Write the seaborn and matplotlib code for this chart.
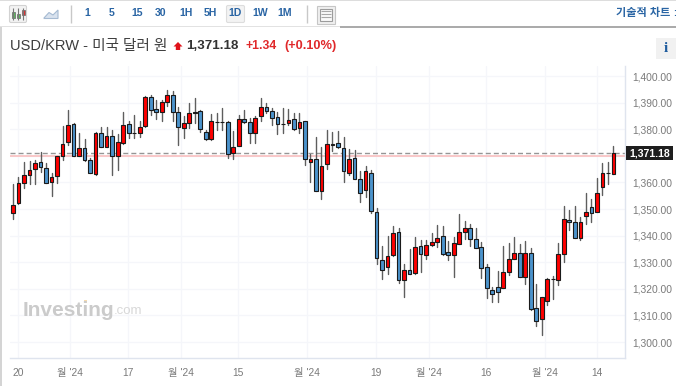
import pandas as pd
import seaborn as sns
import matplotlib.pyplot as plt
from matplotlib.patches import Rectangle, FancyBboxPatch, Polygon

opens = [1348.4, 1352.2, 1359.9, 1362.8, 1365.2, 1367.5, 1365.5, 1360.2, 1362.5, 1370.1,
         1375.1, 1381.9, 1370.1, 1372.9, 1368.5, 1363.1, 1378.7, 1373.5, 1377.4, 1369.9,
         1374.8, 1382.0, 1378.5, 1378.4, 1381.1, 1392.0, 1387.6, 1386.4, 1390.4, 1392.9,
         1386.4, 1380.4, 1382.2, 1386.0, 1386.8, 1379.1, 1376.4, 1382.6, 1382.6, 1382.6,
         1371.1, 1373.8, 1384.0, 1382.6, 1378.4, 1384.8, 1388.5, 1387.0, 1384.6, 1382.0,
         1382.2, 1384.0, 1380.4, 1383.0, 1367.5, 1368.7, 1356.6, 1366.9, 1373.9, 1374.8,
         1372.9, 1363.5, 1369.1, 1361.2, 1357.0, 1363.5, 1349.0, 1330.9, 1328.2, 1332.9,
         1341.4, 1323.5, 1327.2, 1326.0, 1336.1, 1332.9, 1336.5, 1337.5, 1339.7, 1333.9,
         1332.9, 1337.0, 1341.4, 1343.0, 1338.6, 1335.6, 1328.1, 1319.4, 1320.6, 1320.5,
         1326.5, 1331.4, 1333.4, 1324.6, 1333.4, 1312.7, 1308.6, 1315.3, 1323.6, 1323.5,
         1333.1, 1346.0, 1345.1, 1339.0, 1347.2, 1350.7, 1348.8, 1358.2, 1363.7, 1363.1]
closes = [1351.6, 1359.9, 1362.9, 1364.6, 1367.2, 1365.8, 1359.9, 1362.2, 1369.9, 1374.4,
          1381.7, 1370.1, 1372.9, 1368.5, 1363.5, 1378.7, 1373.5, 1377.4, 1369.9, 1375.1,
          1381.7, 1378.5, 1378.5, 1380.8, 1392.0, 1387.1, 1386.4, 1390.1, 1392.9, 1386.4,
          1380.8, 1382.2, 1386.0, 1386.6, 1380.0, 1376.4, 1383.0, 1382.6, 1382.6, 1370.8,
          1373.5, 1384.0, 1382.6, 1378.4, 1384.4, 1388.5, 1387.0, 1384.4, 1382.0, 1382.0,
          1383.6, 1380.2, 1382.6, 1368.7, 1368.7, 1356.6, 1366.2, 1374.4, 1374.5, 1373.5,
          1364.2, 1368.7, 1361.2, 1356.0, 1364.2, 1349.1, 1331.6, 1327.2, 1332.5, 1341.0,
          1323.4, 1327.2, 1325.6, 1335.7, 1333.2, 1336.5, 1337.5, 1339.1, 1333.1, 1332.9,
          1337.2, 1341.2, 1343.0, 1338.6, 1335.2, 1327.7, 1320.2, 1318.1, 1318.7, 1326.5,
          1331.4, 1333.4, 1324.6, 1333.4, 1312.5, 1308.0, 1317.0, 1323.6, 1323.6, 1333.1,
          1346.3, 1345.1, 1339.0, 1345.3, 1349.0, 1348.5, 1356.0, 1363.5, 1363.7, 1371.18]
highs = [1359.4, 1362.0, 1367.6, 1367.9, 1368.5, 1371.5, 1367.2, 1363.5, 1370.0, 1381.2,
         1387.1, 1382.2, 1378.5, 1376.2, 1369.1, 1379.1, 1381.0, 1380.8, 1379.7, 1378.1,
         1386.6, 1382.9, 1385.4, 1382.9, 1392.6, 1392.9, 1391.0, 1391.0, 1394.8, 1394.4,
         1388.2, 1384.8, 1390.0, 1391.6, 1387.2, 1379.7, 1385.8, 1386.0, 1387.9, 1383.2,
         1379.5, 1385.4, 1387.2, 1384.1, 1384.8, 1391.6, 1390.0, 1387.9, 1386.6, 1388.1,
         1387.6, 1386.0, 1386.0, 1383.2, 1370.6, 1377.2, 1373.5, 1379.8, 1379.1, 1379.5,
         1377.0, 1372.5, 1372.2, 1364.4, 1366.0, 1364.7, 1350.4, 1336.0, 1340.0, 1343.5,
         1342.9, 1329.4, 1335.0, 1339.5, 1338.2, 1338.2, 1341.0, 1344.1, 1343.5, 1337.9,
         1339.5, 1348.1, 1345.5, 1344.4, 1343.0, 1337.6, 1329.4, 1320.6, 1326.7, 1336.1,
         1337.1, 1339.4, 1336.9, 1338.1, 1335.2, 1322.0, 1317.0, 1324.1, 1324.7, 1337.2,
         1351.0, 1349.7, 1351.2, 1347.0, 1356.0, 1353.7, 1361.6, 1367.3, 1367.7, 1373.7]
lows = [1346.4, 1352.0, 1357.9, 1359.5, 1359.5, 1364.1, 1359.8, 1354.8, 1359.8, 1368.5,
        1374.1, 1370.0, 1370.0, 1368.1, 1363.5, 1362.9, 1373.2, 1373.5, 1362.9, 1364.8,
        1374.5, 1376.6, 1376.6, 1376.9, 1381.0, 1385.4, 1383.9, 1383.2, 1388.8, 1382.9,
        1374.0, 1376.6, 1380.4, 1382.2, 1379.1, 1376.0, 1376.0, 1379.7, 1379.7, 1369.0,
        1368.8, 1373.8, 1382.2, 1375.0, 1375.0, 1382.9, 1386.0, 1381.6, 1378.2, 1378.5,
        1381.6, 1379.7, 1378.5, 1366.4, 1360.1, 1356.6, 1353.9, 1365.1, 1371.9, 1372.9,
        1360.1, 1362.9, 1361.2, 1352.6, 1354.4, 1348.5, 1329.4, 1323.7, 1325.4, 1332.5,
        1322.2, 1316.9, 1325.6, 1325.7, 1326.4, 1331.4, 1336.2, 1335.6, 1332.9, 1331.0,
        1324.5, 1336.7, 1338.7, 1336.1, 1335.2, 1324.2, 1316.4, 1315.1, 1314.9, 1320.2,
        1325.2, 1331.2, 1324.6, 1321.9, 1311.9, 1306.0, 1302.8, 1313.8, 1316.3, 1321.3,
        1330.0, 1342.2, 1339.0, 1338.2, 1344.5, 1345.3, 1348.7, 1355.3, 1359.5, 1363.1]

prev_close = 1369.84
date_ticks = [0.9, 10.35, 20.9, 30.5, 40.9, 53.4, 65.9, 75.5, 85.9, 96.6, 106]
date_labels = ["20", "월 '24", "17", "월 '24", "15", "월 '24", "19", "월 '24", "16", "월 '24", "14"]
price_ticks = [1300, 1310, 1320, 1330, 1340, 1350, 1360, 1370, 1380, 1390, 1400]
intervals = ["1", "5", "15", "30", "1H", "5H", "1D", "1W", "1M"]
interval_x = [87, 112, 137, 161, 186, 210, 235, 260, 285]

sns.set_theme(style="white")
plt.rcParams['font.family'] = ['Liberation Sans', 'Noto Sans CJK KR', 'DejaVu Sans']

df = pd.DataFrame({"open": opens, "close": closes, "high": highs, "low": lows})
df["i"] = df.index
wicks = df.melt(id_vars="i", value_vars=["high", "low"], value_name="price")
body_colors = ["#ff0000" if c > o else "#4b93cc" if c < o else "#111111" for o, c in zip(opens, closes)]

fig = plt.figure(figsize=(6.76, 3.86), dpi=100)
ax = fig.add_axes([10 / 676, 1 - 358 / 386, 615 / 676, 292 / 386])

sns.lineplot(data=wicks, x="i", y="price", units="i", estimator=None, color="#5e5e5e",
             linewidth=1.0, ax=ax, legend=False, zorder=3)
ax.bar(df["i"], df["close"] - df["open"], bottom=df["open"], width=0.68, color=body_colors,
       edgecolor="#1a1a1a", linewidth=0.8, zorder=4)

ax.axhline(closes[-1], color="#959595", linestyle=(0, (3.6, 2.2)), linewidth=1.0, zorder=2)
ax.axhline(prev_close, color="#f9c4c4", linewidth=1.3, zorder=2)

ax.set_xlim(-0.54, 111.1)
ax.set_ylim(1294.0, 1403.76)
ax.set_xticks(date_ticks)
ax.set_xticklabels(date_labels)
ax.set_yticks(price_ticks)
# the 1,370 label sits behind the last price tag
ax.set_yticklabels(["" if p == 1370 else f"{p:,.2f}" for p in price_ticks])
ax.yaxis.tick_right()
ax.set_xlabel("")
ax.set_ylabel("")
ax.grid(True, color="#f5f6fa", linewidth=0.9)
ax.set_axisbelow(True)
ax.tick_params(axis="both", length=3, width=0.8, color="#dfe4ee", labelcolor="#7a7a7a", labelsize=7.4, pad=2)
ax.tick_params(axis="x", pad=4)
sns.despine(ax=ax, top=True, left=True, right=False, bottom=False)
for side in ["right", "bottom"]:
    ax.spines[side].set_color("#dfe4ee")
    ax.spines[side].set_linewidth(1.0)

# everything around the chart, in pixel coordinates
ui = fig.add_axes([0, 0, 1, 1], facecolor="none")
ui.set_xlim(0, 676)
ui.set_ylim(386, 0)
ui.axis("off")

ui.add_patch(Rectangle((625.7, 146), 47.3, 14, fc="#1e1e1e", ec="none"))
ui.text(649.4, 153, f"{closes[-1]:,.2f}", color="white", fontsize=7.6, fontweight="bold", ha="center", va="center")

ui.add_patch(Rectangle((0, 0), 676, 1.3, color="#dddddd", lw=0))
ui.add_patch(Rectangle((0, 26.4), 340, 1, color="#e2e2e2", lw=0))
ui.add_patch(Rectangle((340, 26.4), 336, 1.2, color="#ababab", lw=0))
ui.add_patch(Rectangle((0, 27), 1.5, 359, color="#d4d4d4", lw=0))
ui.vlines([70.5, 306.5], 5, 23, color="#c8c8c8", lw=1)

ui.add_patch(FancyBboxPatch((9.5, 5.5), 17, 17, boxstyle="round,pad=0,rounding_size=1.5",
                            fc="#f2f2f2", ec="#d2d2d2", lw=0.8))
ui.vlines([13, 18, 23], 8, 20, color="#777777", lw=0.8)
ui.add_patch(Rectangle((11.5, 12), 3, 6, fc="#5cb85c", ec="#666666", lw=0.5))
ui.add_patch(Rectangle((16.5, 14), 3, 4, fc="#5cb85c", ec="#666666", lw=0.5))
ui.add_patch(Rectangle((21.5, 10), 3, 5, fc="#e03030", ec="#666666", lw=0.5))
ui.add_patch(Polygon([(44, 18), (49, 12.5), (53, 15), (58, 10), (58, 18.5), (44, 18.5)],
                     fc="#d8e2ee", ec="#a5bad2", lw=0.8))

ui.add_patch(FancyBboxPatch((226.5, 5.5), 18, 17, boxstyle="round,pad=0,rounding_size=1.5",
                            fc="#f3f3f3", ec="#dddddd", lw=0.8))
for label, x in zip(intervals, interval_x):
    ui.text(x, 13.5, label, color="#2a65a4", fontsize=7.6, fontweight="bold", ha="center", va="center")

ui.add_patch(Rectangle((317, 5.5), 18, 18, fc="#f0f0f0", ec="#c6c6c6", lw=0.8))
ui.add_patch(Rectangle((320, 8.5), 12, 12, fc="#fafafa", ec="#9c9c9c", lw=0.8))
ui.hlines([11, 14, 17], 321, 331, color="#a8a8a8", lw=0.8)

ui.text(10, 46, "USD/KRW - 미국 달러 원", color="#3d3d3d", fontsize=10.5, ha="left", va="center")
ui.add_patch(Polygon([(178, 42), (182.5, 46.5), (180.2, 46.5), (180.2, 50), (175.8, 50), (175.8, 46.5), (173.5, 46.5)],
                     fc="#e0131a", ec="none"))
ui.text(186, 46, f"{closes[-1]:,.2f}", color="#333333", fontsize=9.6, fontweight="bold", ha="left", va="center")
ui.text(245, 46, "+1.34", color="#e0282a", fontsize=8.8, fontweight="bold", ha="left", va="center")
ui.text(284, 46, "(+0.10%)", color="#e0282a", fontsize=9.2, fontweight="bold", ha="left", va="center")

ui.text(670, 13, "기술적 차트", color="#2a65a4", fontsize=8, fontweight="bold", ha="right", va="center")
ui.text(674.5, 13.5, ":", color="#2a65a4", fontsize=7, fontweight="bold", ha="center", va="center")
ui.add_patch(Rectangle((656, 38), 20, 21, fc="#f1f1f1", ec="none"))
ui.text(666, 49, "i", color="#1f5c9e", fontsize=11, fontweight="bold", family="Liberation Serif", ha="center", va="center")

ui.text(23, 310, "Investing", color="#cbcbcb", fontsize=15, fontweight="bold", ha="left", va="center")
ui.text(114, 311, ".com", color="#d8d8d8", fontsize=9.5, ha="left", va="center")
ui.add_patch(Rectangle((84, 300), 3, 2.5, fc="#f8dcae", ec="none"))

fig.savefig("out.png", dpi=100)
